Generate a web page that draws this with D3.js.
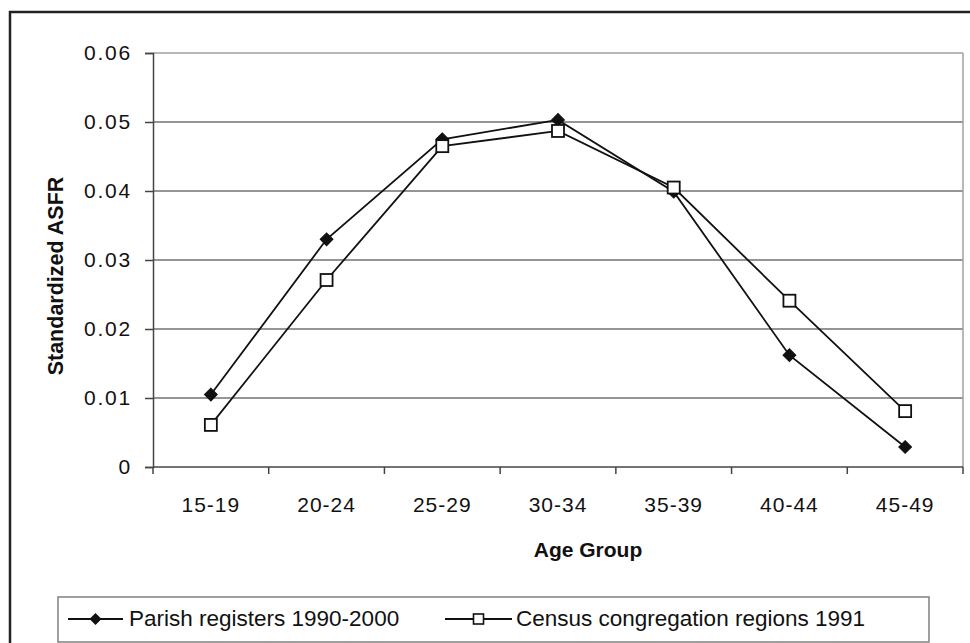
<!DOCTYPE html>
<html><head><meta charset="utf-8">
<script src="https://cdn.jsdelivr.net/npm/d3@7"></script>
<style>
body{margin:0;background:#fff;}
svg{display:block;font-family:"Liberation Sans",Arial,sans-serif;}
</style></head>
<body>
<svg id="c" width="970" height="643"></svg>
<script>
const categories = ["15-19","20-24","25-29","30-34","35-39","40-44","45-49"];
const categoryLabels = ["15-19","20-24","25-29","30-34","35-39","40-44","45-49"];
const parish = [0.0105, 0.0330, 0.0475, 0.0503, 0.0399, 0.0162, 0.0029];
const census = [0.0061, 0.0271, 0.0465, 0.0487, 0.0405, 0.0241, 0.0081];
const yTicks = [0, 0.01, 0.02, 0.03, 0.04, 0.05, 0.06];
const seriesNames = ["Parish registers 1990-2000", "Census congregation regions 1991"];

const svg = d3.select("#c");
const L = 153, R = 963, T = 53, B = 467;

// outer chart frame
svg.append("rect").attr("x",10).attr("y",12).attr("width",1000).attr("height",700)
  .attr("fill","#fff").attr("stroke","#222").attr("stroke-width",2.5);

const x = d3.scaleBand().domain(categories).range([L,R]).padding(0);
const y = d3.scaleLinear().domain([0,0.06]).range([B,T]);

// gridlines
svg.append("g").selectAll("line").data(yTicks.filter(d=>d>0)).join("line")
  .attr("x1",L).attr("x2",R).attr("y1",d=>y(d)).attr("y2",d=>y(d))
  .attr("stroke",d=>d===0.06?"#a0a0a0":"#727272").attr("stroke-width",1.5);
// right border of plot area
svg.append("line").attr("x1",R).attr("x2",R).attr("y1",T).attr("y2",B)
  .attr("stroke","#a0a0a0").attr("stroke-width",1.5);

// y axis
const yAxis = d3.axisLeft(y).tickValues(yTicks).tickSize(8).tickPadding(13)
  .tickFormat(d=> d===0 ? "0" : d.toFixed(2));
const gy = svg.append("g").attr("transform",`translate(${L},0)`).call(yAxis);
gy.select(".domain").attr("stroke","#444").attr("stroke-width",1.5);
gy.selectAll(".tick line").attr("stroke","#444").attr("stroke-width",1.5);
gy.selectAll(".tick text").attr("font-size",21).attr("fill","#111")
  .attr("letter-spacing","1.8px").attr("font-family","Liberation Sans, Arial, sans-serif");

// x axis (ticks at category boundaries)
svg.append("line").attr("x1",L).attr("x2",R).attr("y1",B).attr("y2",B)
  .attr("stroke","#444").attr("stroke-width",1.5);
const bounds = categories.map(c=>x(c)).concat([x(categories[categories.length-1])+x.bandwidth()]);
svg.append("g").selectAll("line").data(bounds).join("line")
  .attr("x1",d=>d).attr("x2",d=>d).attr("y1",B).attr("y2",B+7)
  .attr("stroke","#444").attr("stroke-width",1.5);
svg.append("g").selectAll("text").data(categories).join("text")
  .attr("x",d=>x(d)+x.bandwidth()/2).attr("y",512)
  .attr("text-anchor","middle").attr("font-size",21).attr("fill","#111")
  .attr("letter-spacing","1px")
  .text((d,i)=>categoryLabels[i]);

// axis titles
svg.append("text").attr("transform","translate(63,276) rotate(-90)")
  .attr("text-anchor","middle").attr("font-size",21.5).attr("font-weight","bold")
  .attr("fill","#111").text("Standardized ASFR");
svg.append("text").attr("x",588).attr("y",557).attr("text-anchor","middle")
  .attr("font-size",21).attr("font-weight","bold").attr("fill","#111").text("Age Group");

// lines
const cx = (d,i)=>x(categories[i])+x.bandwidth()/2;
const line = d3.line().x((d,i)=>cx(d,i)).y(d=>y(d));
svg.append("path").datum(census).attr("d",line).attr("fill","none")
  .attr("stroke","#111").attr("stroke-width",1.8);
svg.append("path").datum(parish).attr("d",line).attr("fill","none")
  .attr("stroke","#111").attr("stroke-width",1.8);

// markers
svg.append("g").selectAll("path").data(parish).join("path")
  .attr("d", d3.symbol().type(d3.symbolSquare).size(82))
  .attr("transform",(d,i)=>`translate(${cx(d,i)},${y(d)}) rotate(45)`)
  .attr("fill","#111").attr("stroke","#111").attr("stroke-width",1);
svg.append("g").selectAll("rect").data(census).join("rect")
  .attr("x",(d,i)=>cx(d,i)-6).attr("y",d=>y(d)-6)
  .attr("width",12).attr("height",12)
  .attr("fill","#fff").attr("stroke","#111").attr("stroke-width",1.8);

// legend
svg.append("rect").attr("x",58).attr("y",597).attr("width",871).attr("height",45)
  .attr("fill","#fff").attr("stroke","#808080").attr("stroke-width",1.5);
const ly = 619;
// item 1
svg.append("line").attr("x1",68).attr("x2",123).attr("y1",ly).attr("y2",ly)
  .attr("stroke","#111").attr("stroke-width",1.8);
svg.append("path").attr("d", d3.symbol().type(d3.symbolSquare).size(72))
  .attr("transform",`translate(95.5,${ly}) rotate(45)`).attr("fill","#111");
svg.append("text").attr("x",129).attr("y",626).attr("font-size",22.5).attr("fill","#111")
  .text(seriesNames[0]);
// item 2
svg.append("line").attr("x1",445).attr("x2",512).attr("y1",ly).attr("y2",ly)
  .attr("stroke","#111").attr("stroke-width",1.8);
svg.append("rect").attr("x",478.5-5).attr("y",ly-5).attr("width",10).attr("height",10)
  .attr("fill","#fff").attr("stroke","#111").attr("stroke-width",1.6);
svg.append("text").attr("x",516).attr("y",626).attr("font-size",22.5).attr("fill","#111")
  .text(seriesNames[1]);
</script>
</body></html>
